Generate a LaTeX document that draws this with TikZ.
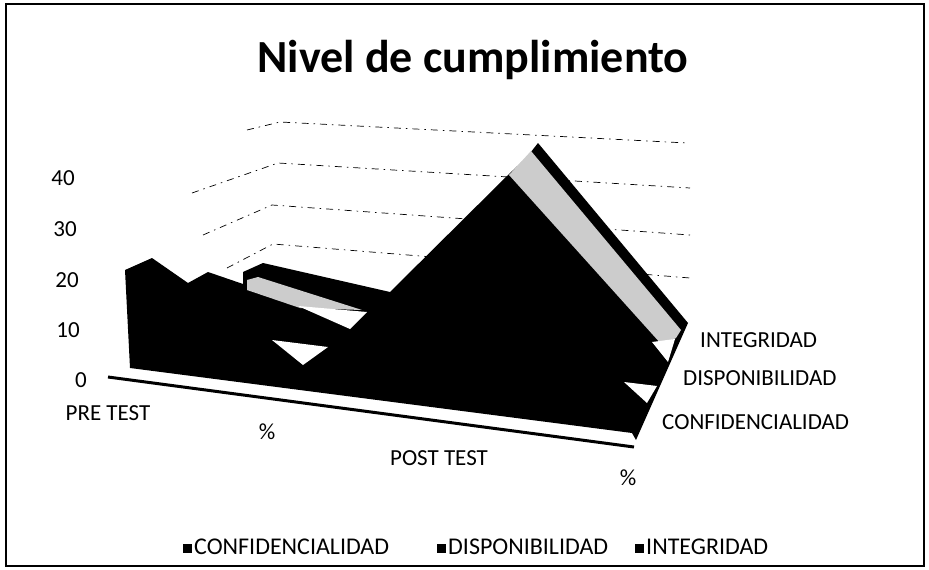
\documentclass[tikz,border=0pt]{standalone}
\usepackage{fontspec}
\setmainfont{Carlito}
\begin{document}
\begin{tikzpicture}[x=1pt,y=-1pt,
  lbl/.style={font=\fontsize{23}{26}\selectfont, inner sep=0pt},
  leglbl/.style={font=\fontsize{24}{27}\selectfont, inner sep=0pt, anchor=west},
  gridln/.style={line width=0.7pt, dash pattern=on 7pt off 5pt on 1.5pt off 5pt},
  area/.style={fill=black, draw=none},
  hole/.style={fill=white, draw=none},
  band/.style={fill=gray!40, draw=none},
  legsq/.style={fill=black, minimum size=9pt, inner sep=0pt, draw=none}]
\useasboundingbox (0,0) rectangle (929,570);
% frame
\draw[line width=1.2pt] (6,4) rectangle (924,566);
\draw[line width=2.5pt] (6,4) -- (6,566);
% title
\node[font=\bfseries\fontsize{46}{52}\selectfont, inner sep=0pt] (title) at (473,60) {Nivel de cumplimiento};
% gridlines
\draw[gridln] (247,130) -- (280,122) -- (687,143);
\draw[gridln] (192,193) -- (278,163) -- (690,188);
\draw[gridln] (203,235) -- (272,205) -- (690,235);
\draw[gridln] (227,268) -- (273,244) -- (690,278);
% floor line
\draw[line width=3pt] (108,377) -- (634,447);
% silhouette
\fill[area] (130,368) -- (125,270) -- (152,258) -- (188,283) -- (208,272) -- (243,284)
  -- (243,272) -- (263,263) -- (390,292) -- (508,175) -- (527,157) -- (538,143)
  -- (688,323) -- (636,440) -- (632,433) -- cycle;
% gray bands
\fill[band] (509,175) -- (531,151) -- (681,330) -- (676,338) -- (662,345) -- cycle;
\fill[band] (247,280) -- (258,277) -- (362,310) -- (300,308) -- (247,290) -- cycle;
% white gaps
\fill[hole] (298,306) -- (367,312) -- (350,329) -- cycle;
\fill[hole] (272,340) -- (328,347) -- (303,365) -- cycle;
\fill[hole] (652,342) -- (675,339) -- (668,362) -- cycle;
\fill[hole] (624,382) -- (657,386) -- (647,403) -- cycle;
% value axis labels
\node[lbl] (v40) at (63,178) {40};
\node[lbl] (v30) at (65,229) {30};
\node[lbl] (v20) at (67,280) {20};
\node[lbl] (v10) at (68,330) {10};
\node[lbl] (v0)  at (81,380) {0};
% category labels
\node[lbl] (pre) at (108,413) {PRE TEST};
\node[lbl] (pc1) at (267,432) {\%};
\node[lbl] (post) at (439,458) {POST TEST};
\node[lbl] (pc2) at (628,478) {\%};
% series labels
\node[lbl, anchor=west] (sInt) at (700,340) {INTEGRIDAD};
\node[lbl, anchor=west] (sDis) at (683,378) {DISPONIBILIDAD};
\node[lbl, anchor=west] (sCon) at (662,422) {CONFIDENCIALIDAD};
% legend
\node[legsq] (l1) at (187,548) {};
\node[leglbl] (lt1) at (194,547) {CONFIDENCIALIDAD};
\node[legsq] (l2) at (441,548) {};
\node[leglbl] (lt2) at (448,547) {DISPONIBILIDAD};
\node[legsq] (l3) at (639,548) {};
\node[leglbl] (lt3) at (646,547) {INTEGRIDAD};
\end{tikzpicture}
\end{document}
